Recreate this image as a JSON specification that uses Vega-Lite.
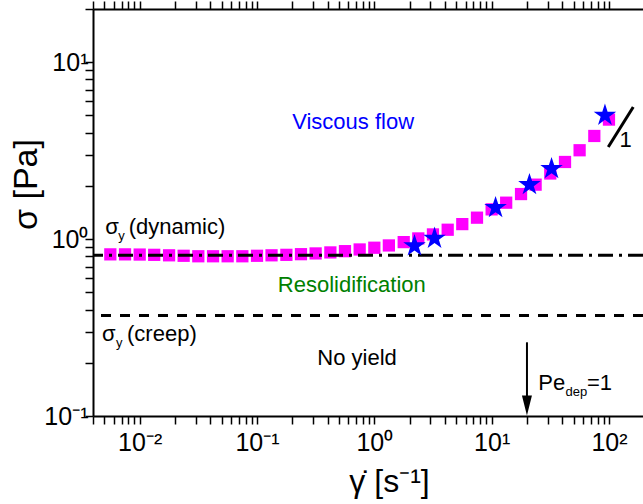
{
  "$schema": "https://vega.github.io/schema/vega-lite/v6.json",
  "width": 550,
  "height": 407,
  "autosize": {"type": "none"},
  "padding": {"left": 93, "top": 9, "right": 0, "bottom": 88},
  "background": "white",
  "config": {"view": {"stroke": null}, "font": "Liberation Sans"},
  "resolve": {"axis": {"x": "independent", "y": "independent"}},
  "layer": [
    {
      "data": {"values": [
        {"rate": 0.00562, "stress": 0.82}, {"rate": 0.0075, "stress": 0.82}, {"rate": 0.01, "stress": 0.818},
        {"rate": 0.0133, "stress": 0.815}, {"rate": 0.0178, "stress": 0.81}, {"rate": 0.0237, "stress": 0.805},
        {"rate": 0.0316, "stress": 0.80}, {"rate": 0.0422, "stress": 0.80}, {"rate": 0.0562, "stress": 0.80},
        {"rate": 0.075, "stress": 0.80}, {"rate": 0.1, "stress": 0.805}, {"rate": 0.133, "stress": 0.81},
        {"rate": 0.178, "stress": 0.815}, {"rate": 0.237, "stress": 0.822}, {"rate": 0.316, "stress": 0.83},
        {"rate": 0.422, "stress": 0.841}, {"rate": 0.562, "stress": 0.855}, {"rate": 0.75, "stress": 0.874},
        {"rate": 1.0, "stress": 0.894}, {"rate": 1.33, "stress": 0.921}, {"rate": 1.78, "stress": 0.962},
        {"rate": 2.37, "stress": 1.009}, {"rate": 3.16, "stress": 1.063}, {"rate": 4.22, "stress": 1.13},
        {"rate": 5.62, "stress": 1.216}, {"rate": 7.5, "stress": 1.322}, {"rate": 10, "stress": 1.473},
        {"rate": 13.3, "stress": 1.607}, {"rate": 17.8, "stress": 1.798}, {"rate": 23.7, "stress": 2.032},
        {"rate": 31.6, "stress": 2.35}, {"rate": 42.2, "stress": 2.73}, {"rate": 56.2, "stress": 3.18},
        {"rate": 75, "stress": 3.83}, {"rate": 100, "stress": 4.74}
      ]},
      "mark": {"type": "point", "shape": "square", "filled": true, "color": "#FF00FF", "size": 150, "opacity": 1, "strokeWidth": 0},
      "encoding": {
        "x": {"field": "rate", "type": "quantitative",
          "scale": {"type": "log", "domain": [0.004, 195], "nice": false},
          "axis": {
            "orient": "bottom",
            "values": [0.004,0.005,0.006,0.007,0.008,0.009,0.01,0.02,0.03,0.04,0.05,0.06,0.07,0.08,0.09,0.1,0.2,0.3,0.4,0.5,0.6,0.7,0.8,0.9,1,2,3,4,5,6,7,8,9,10,20,30,40,50,60,70,80,90,100],
            "labelExpr": "datum.value == 0.01 ? '10⁻²' : datum.value == 0.1 ? '10⁻¹' : datum.value == 1 ? '10⁰' : datum.value == 10 ? '10¹' : datum.value == 100 ? '10²' : ''",
            "labelFont": "Liberation Sans", "labelFontSize": 25, "labelColor": "black",
            "labelPadding": 6, "labelFlush": false, "labelOverlap": false,
            "ticks": true, "tickSize": 8, "tickColor": "black", "tickWidth": 1.5,
            "domainColor": "black", "domainWidth": 2, "grid": false,
            "title": "γ̇ [s⁻¹]", "titleFont": "Liberation Sans", "titleFontSize": 32, "titleFontWeight": "normal", "titleColor": "black",
            "titleX": 296, "titleY": 75, "titleBaseline": "alphabetic", "titleAlign": "center",
            "encode": {"ticks": {"update": {"y2": {"signal": "abs(log(datum.value)/LN10 - round(log(datum.value)/LN10)) < 0.01 ? -8 : -4"}}}}
          }
        },
        "y": {"field": "stress", "type": "quantitative",
          "scale": {"type": "log", "domain": [0.1, 20], "nice": false},
          "axis": {
            "orient": "left",
            "values": [0.1,0.2,0.3,0.4,0.5,0.6,0.7,0.8,0.9,1,2,3,4,5,6,7,8,9,10,20],
            "labelExpr": "datum.value == 0.1 ? '10⁻¹' : datum.value == 1 ? '10⁰' : datum.value == 10 ? '10¹' : ''",
            "labelFont": "Liberation Sans", "labelFontSize": 25, "labelColor": "black",
            "labelPadding": -3, "labelFlush": false, "labelOverlap": false,
            "ticks": true, "tickSize": 8, "tickColor": "black", "tickWidth": 1.5,
            "domainColor": "black", "domainWidth": 2, "grid": false,
            "title": "σ [Pa]", "titleFont": "Liberation Sans", "titleFontSize": 34, "titleFontWeight": "normal", "titleColor": "black",
            "titleX": -57, "titleY": 175, "titleBaseline": "alphabetic", "titleAlign": "center", "titleAngle": -90,
            "encode": {"ticks": {"update": {"x2": {"signal": "abs(log(datum.value)/LN10 - round(log(datum.value)/LN10)) < 0.01 ? 8 : 4"}}}}
          }
        }
      }
    },
    {
      "data": {"values": [{"sigma": 0.81}]},
      "mark": {"type": "rule", "color": "black", "strokeWidth": 3, "strokeDash": [15, 6, 3, 6]},
      "encoding": {"y": {"field": "sigma", "type": "quantitative", "scale": {"type": "log", "domain": [0.1, 20], "nice": false}, "axis": null}}
    },
    {
      "data": {"values": [{"sigma": 0.37}]},
      "mark": {"type": "rule", "color": "black", "strokeWidth": 3, "strokeDash": [10, 9]},
      "encoding": {"y": {"field": "sigma", "type": "quantitative", "scale": {"type": "log", "domain": [0.1, 20], "nice": false}, "axis": null}}
    },
    {
      "data": {"values": [
        {"rate": 2.2, "stress": 0.915}, {"rate": 3.26, "stress": 1.01}, {"rate": 10.8, "stress": 1.505},
        {"rate": 21, "stress": 2.03}, {"rate": 32.4, "stress": 2.5}, {"rate": 92.4, "stress": 5.01}
      ]},
      "mark": {"type": "point", "shape": "M0,-1L0.2245,-0.309L0.9511,-0.309L0.3633,0.118L0.5878,0.809L0,0.382L-0.5878,0.809L-0.3633,0.118L-0.9511,-0.309L-0.2245,-0.309Z", "filled": true, "color": "#0000FF", "size": 560, "opacity": 1, "strokeWidth": 0},
      "encoding": {
        "x": {"field": "rate", "type": "quantitative",
          "scale": {"type": "log", "domain": [0.004, 195], "nice": false},
          "axis": {
            "orient": "top",
            "values": [0.004,0.005,0.006,0.007,0.008,0.009,0.01,0.02,0.03,0.04,0.05,0.06,0.07,0.08,0.09,0.1,0.2,0.3,0.4,0.5,0.6,0.7,0.8,0.9,1,2,3,4,5,6,7,8,9,10,20,30,40,50,60,70,80,90,100],
            "labels": false, "title": null,
            "ticks": true, "tickSize": 8, "tickColor": "black", "tickWidth": 1.5,
            "domainColor": "black", "domainWidth": 2, "grid": false,
            "encode": {"ticks": {"update": {"y2": {"signal": "abs(log(datum.value)/LN10 - round(log(datum.value)/LN10)) < 0.01 ? 8 : 4"}}}}
          }
        },
        "y": {"field": "stress", "type": "quantitative",
          "scale": {"type": "log", "domain": [0.1, 20], "nice": false},
          "axis": {
            "orient": "right",
            "values": [0.1,0.2,0.3,0.4,0.5,0.6,0.7,0.8,0.9,1,2,3,4,5,6,7,8,9,10,20],
            "labels": false, "title": null, "domain": false,
            "ticks": true, "tickSize": 8, "tickColor": "black", "tickWidth": 1.5, "grid": false,
            "encode": {"ticks": {"update": {"x2": {"signal": "abs(log(datum.value)/LN10 - round(log(datum.value)/LN10)) < 0.01 ? -8 : -4"}}}}
          }
        }
      }
    },
    {
      "data": {"values": [{"rate": 98.6, "stress": 3.32}, {"rate": 161, "stress": 5.58}]},
      "mark": {"type": "line", "color": "black", "strokeWidth": 3},
      "encoding": {
        "x": {"field": "rate", "type": "quantitative", "scale": {"type": "log", "domain": [0.004, 195], "nice": false}, "axis": null},
        "y": {"field": "stress", "type": "quantitative", "scale": {"type": "log", "domain": [0.1, 20], "nice": false}, "axis": null}
      }
    },
    {
      "data": {"values": [{"rate": 20, "top": 0.261, "bottom": 0.12}]},
      "mark": {"type": "rule", "color": "black", "strokeWidth": 2},
      "encoding": {
        "x": {"field": "rate", "type": "quantitative", "scale": {"type": "log", "domain": [0.004, 195], "nice": false}, "axis": null},
        "y": {"field": "top", "type": "quantitative", "scale": {"type": "log", "domain": [0.1, 20], "nice": false}, "axis": null},
        "y2": {"field": "bottom"}
      }
    },
    {
      "data": {"values": [{"rate": 20, "stress": 0.1145}]},
      "mark": {"type": "point", "shape": "M-0.5,-1L0.5,-1L0,1Z", "filled": true, "color": "black", "size": 400, "opacity": 1, "strokeWidth": 0},
      "encoding": {
        "x": {"field": "rate", "type": "quantitative", "scale": {"type": "log", "domain": [0.004, 195], "nice": false}, "axis": null},
        "y": {"field": "stress", "type": "quantitative", "scale": {"type": "log", "domain": [0.1, 20], "nice": false}, "axis": null}
      }
    },
    {
      "data": {"values": [{"label": "Viscous flow", "rate": 0.659, "stress": 4.215}]},
      "mark": {"type": "text", "font": "Liberation Sans", "fontSize": 22, "color": "#0000FF", "align": "center", "baseline": "alphabetic"},
      "encoding": {
        "x": {"field": "rate", "type": "quantitative", "scale": {"type": "log", "domain": [0.004, 195], "nice": false}, "axis": null},
        "y": {"field": "stress", "type": "quantitative", "scale": {"type": "log", "domain": [0.1, 20], "nice": false}, "axis": null},
        "text": {"field": "label"}
      }
    },
    {
      "data": {"values": [{"label": "Resolidification", "rate": 0.643, "stress": 0.501}]},
      "mark": {"type": "text", "font": "Liberation Sans", "fontSize": 22, "color": "#008000", "align": "center", "baseline": "alphabetic"},
      "encoding": {
        "x": {"field": "rate", "type": "quantitative", "scale": {"type": "log", "domain": [0.004, 195], "nice": false}, "axis": null},
        "y": {"field": "stress", "type": "quantitative", "scale": {"type": "log", "domain": [0.1, 20], "nice": false}, "axis": null},
        "text": {"field": "label"}
      }
    },
    {
      "data": {"values": [{"label": "No yield", "rate": 0.713, "stress": 0.1946}]},
      "mark": {"type": "text", "font": "Liberation Sans", "fontSize": 22, "color": "black", "align": "center", "baseline": "alphabetic"},
      "encoding": {
        "x": {"field": "rate", "type": "quantitative", "scale": {"type": "log", "domain": [0.004, 195], "nice": false}, "axis": null},
        "y": {"field": "stress", "type": "quantitative", "scale": {"type": "log", "domain": [0.1, 20], "nice": false}, "axis": null},
        "text": {"field": "label"}
      }
    },
    {
      "data": {"values": [
        {"label": "σ", "rate": 0.00509, "stress": 1.063},
        {"label": "(dynamic)", "rate": 0.00807, "stress": 1.063},
        {"label": "σ", "rate": 0.00477, "stress": 0.267},
        {"label": "(creep)", "rate": 0.0078, "stress": 0.267},
        {"label": "Pe", "rate": 25.0, "stress": 0.1405},
        {"label": "=1", "rate": 64.9, "stress": 0.1405},
        {"label": "1", "rate": 122.8, "stress": 3.32}
      ]},
      "mark": {"type": "text", "font": "Liberation Sans", "fontSize": 22, "color": "black", "align": "left", "baseline": "alphabetic"},
      "encoding": {
        "x": {"field": "rate", "type": "quantitative", "scale": {"type": "log", "domain": [0.004, 195], "nice": false}, "axis": null},
        "y": {"field": "stress", "type": "quantitative", "scale": {"type": "log", "domain": [0.1, 20], "nice": false}, "axis": null},
        "text": {"field": "label"}
      }
    },
    {
      "data": {"values": [
        {"label": "y", "rate": 0.00657, "stress": 0.992},
        {"label": "y", "rate": 0.00628, "stress": 0.2447},
        {"label": "dep", "rate": 42.6, "stress": 0.1304}
      ]},
      "mark": {"type": "text", "font": "Liberation Sans", "fontSize": 13, "color": "black", "align": "left", "baseline": "alphabetic"},
      "encoding": {
        "x": {"field": "rate", "type": "quantitative", "scale": {"type": "log", "domain": [0.004, 195], "nice": false}, "axis": null},
        "y": {"field": "stress", "type": "quantitative", "scale": {"type": "log", "domain": [0.1, 20], "nice": false}, "axis": null},
        "text": {"field": "label"}
      }
    }
  ]
}
